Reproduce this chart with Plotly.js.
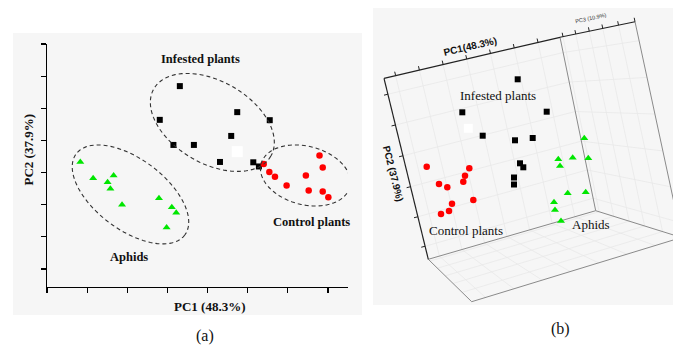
<!DOCTYPE html>
<html><head><meta charset="utf-8">
<script src="https://cdn.plot.ly/plotly-3.0.1.min.js"></script>
<style>html,body{margin:0;padding:0;background:#fff}#chart{width:673px;height:345px}</style>
</head><body><div id="chart"></div>
<script>
// ---------- Panel (a): 2D PCA scores ----------
const infestedA_x = [0.31,-0.19,1.74,2.55,1.59,0.15,0.66,1.31,2.14,2.28];
const infestedA_y = [2.69,1.64,1.88,1.63,1.14,0.86,0.86,0.33,0.32,0.19];
const controlA_x  = [2.40,2.54,2.68,2.97,3.45,3.52,3.79,3.87,3.87,4.01];
const controlA_y  = [0.27,0.02,-0.13,-0.40,-0.09,-0.56,0.53,0.16,-0.59,-0.77];
const aphidsA_x   = [-2.17,-1.85,-1.34,-1.49,-1.42,-1.13,-0.21,0.11,0.22,-0.02];
const aphidsA_y   = [0.33,-0.18,-0.09,-0.30,-0.50,-1.00,-0.80,-1.08,-1.25,-1.71];
const blankA_x = [1.74];
const blankA_y = [0.65];
const xTicksA = [-3,-2,-1,0,1,2,3,4];
const yTicksA = [-3,-2,-1,0,1,2,3,4];
const groupLabels = ["Infested plants","Control plants","Aphids"];
const axisLabelsA = ["PC1 (48.3%)","PC2 (37.9%)"];
const axisLabelsB = ["PC1(48.3%)","PC2 (37.9%)","PC3 (10.9%)"];
const panelLabels = ["(a)","(b)"];

// ---------- Panel (b): projected 3D PCA scores ----------
const infestedB_x = [144.7,89.3,173.7,109.7,142,159.7,147,150.3,141,141];
const infestedB_y = [225.7,192.7,193.3,169.3,164.7,167,141.7,137.7,127.5,120.5];
const controlB_x  = [53.7,96.3,92,90.3,66,74.3,100.3,79,76,68];
const controlB_y  = [138.3,136.7,129.3,123.3,121,117.7,105,101.3,94,91];
const aphidsB_x   = [211.3,185.3,199.7,215.3,187,194.7,212.7,181,182,188];
const aphidsB_y   = [166.7,145.7,147.3,146.7,139,111.7,112.7,102.7,95,84];
const blankB_x = [95.3];
const blankB_y = [176.7];

// ---------- layout geometry ----------
const W = 673, H = 345;
const xRangeA = [-3, 4.5], yRangeA = [-3.56, 4.0];
const domA = {x0:47, x1:348, y0:44, y1:287};
const domB = {x0:373, x1:673, y0:8, y1:305};
const pxX = (domA.x1-domA.x0)/(xRangeA[1]-xRangeA[0]);
const pxY = (domA.y1-domA.y0)/(yRangeA[1]-yRangeA[0]);
const fx = p => p/W, fy = p => 1 - p/H;

const serif = "Liberation Serif, Times New Roman, serif";
const sans = "Liberation Sans, Arial, sans-serif";
const GREEN = "#00e600", RED = "#ff0000";

const shapes = [];
shapes.push({type:'rect', xref:'paper', yref:'paper', layer:'below', x0:fx(13), x1:fx(362), y0:fy(315), y1:fy(33), fillcolor:'#f6f6f6', line:{width:0}});
shapes.push({type:'rect', xref:'paper', yref:'paper', layer:'below', x0:fx(373), x1:1, y0:fy(305), y1:fy(8), fillcolor:'#f6f6f6', line:{width:0}});

const ellipses = [
  {cx:1.12, cy:1.56, a:67.5, b:41.1, t:29.9},
  {cx:-0.92, cy:-0.68, a:67.8, b:35.3, t:36.8},
  {cx:3.44, cy:-0.09, a:45.9, b:29.2, t:14.6}
];
ellipses.forEach(e => {
  const th = e.t*Math.PI/180; let d = '';
  for (let i=0;i<=96;i++){
    const s = 2*Math.PI*i/96;
    const dx = e.a*Math.cos(s)*Math.cos(th) - e.b*Math.sin(s)*Math.sin(th);
    const dy = e.a*Math.cos(s)*Math.sin(th) + e.b*Math.sin(s)*Math.cos(th);
    const X = e.cx + dx/pxX, Y = e.cy - dy/pxY;
    d += (i===0?'M':'L') + X.toFixed(4) + ',' + Y.toFixed(4);
  }
  shapes.push({type:'path', xref:'x', yref:'y', path:d+'Z', line:{color:'#333', width:1.1, dash:'4px,3px'}});
});

const TL=[11,226.7], TR=[187,267.7], BR=[222.7,94.3], BL=[55.3,45.7];
const TF=[262,283.3], BF=[308.5,67.5], FL=[98.7,3.3];
const front=[TL,TR,BR,BL], right=[TR,TF,BF,BR], floor=[BL,BR,BF,FL];
function P(f,u,v){
  const [a,b,c,d]=f;
  return [(1-u)*(1-v)*a[0]+u*(1-v)*b[0]+u*v*c[0]+(1-u)*v*d[0],
          (1-u)*(1-v)*a[1]+u*(1-v)*b[1]+u*v*c[1]+(1-u)*v*d[1]];
}
const uT=[0.066,0.201,0.336,0.470,0.605,0.740,0.875];
const vT=[0.088,0.258,0.428,0.599,0.765,0.928];
const wT=[0.04,0.21,0.39,0.57,0.78];
function seg(p,q,color,width){
  shapes.push({type:'line', xref:'x2', yref:'y2', layer:'below', x0:p[0], y0:p[1], x1:q[0], y1:q[1], line:{color:color, width:width}});
}
const gc='#e9e9e9';
uT.forEach(u=>{seg(P(front,u,0),P(front,u,1),gc,0.8); seg(P(floor,u,0),P(floor,u,1),gc,0.8);});
vT.forEach(v=>{seg(P(front,0,v),P(front,1,v),gc,0.8); seg(P(right,0,v),P(right,1,v),gc,0.8);});
wT.forEach(w=>{seg(P(right,w,0),P(right,w,1),gc,0.8); seg(P(floor,0,w),P(floor,1,w),gc,0.8);});
const ec='#8a8a8a', dk='#222';
seg(TR,BR,ec,1); seg(BL,BR,ec,1); seg(TF,BF,ec,1); seg(BR,BF,ec,1); seg(BL,FL,ec,1); seg(FL,BF,ec,1);
seg(TL,TR,dk,1.2); seg(TL,BL,dk,1.2); seg(TR,TF,dk,1.1);
function nrm(p,q,sgn){const dx=q[0]-p[0],dy=q[1]-p[1],L=Math.hypot(dx,dy);return [sgn*-dy/L, sgn*dx/L];}
const nTop=nrm(TL,TR,1), nLeft=nrm(TL,BL,-1), nR=nrm(TR,TF,1);
uT.forEach(u=>{const p=P(front,u,0); seg(p,[p[0]+4*nTop[0],p[1]+4*nTop[1]],dk,1);});
vT.forEach(v=>{const p=P(front,0,v); seg(p,[p[0]+4*nLeft[0],p[1]+4*nLeft[1]],dk,1);});
wT.concat([1]).forEach(w=>{const p=P(right,w,0); seg(p,[p[0]+4*nR[0],p[1]+4*nR[1]],dk,1);});

const traces = [
  {x:infestedA_x, y:infestedA_y, xaxis:'x', yaxis:'y', mode:'markers', marker:{symbol:'square', size:6, color:'#000'}},
  {x:blankA_x, y:blankA_y, xaxis:'x', yaxis:'y', mode:'markers', marker:{symbol:'square', size:11, color:'#fff'}},
  {x:controlA_x, y:controlA_y, xaxis:'x', yaxis:'y', mode:'markers', marker:{symbol:'circle', size:6.5, color:RED}},
  {x:aphidsA_x, y:aphidsA_y, xaxis:'x', yaxis:'y', mode:'markers', marker:{symbol:'triangle-up', size:7, color:GREEN}},
  {x:infestedB_x, y:infestedB_y, xaxis:'x2', yaxis:'y2', mode:'markers', marker:{symbol:'square', size:6, color:'#000'}},
  {x:blankB_x, y:blankB_y, xaxis:'x2', yaxis:'y2', mode:'markers', marker:{symbol:'square', size:9, color:'#fff'}},
  {x:controlB_x, y:controlB_y, xaxis:'x2', yaxis:'y2', mode:'markers', marker:{symbol:'circle', size:6.5, color:RED}},
  {x:aphidsB_x, y:aphidsB_y, xaxis:'x2', yaxis:'y2', mode:'markers', marker:{symbol:'triangle-up', size:7, color:GREEN}}
];

const ann = (text,x,y,font,extra) => Object.assign({text:text, x:x, y:y, showarrow:false, font:font, xanchor:'center', yanchor:'middle'}, extra||{});
const annotations = [
  ann(groupLabels[0], 0.82, 3.52, {family:serif, size:12.5, color:'#111', weight:'bold'}, {xref:'x', yref:'y'}),
  ann(groupLabels[1], 3.58, -1.55, {family:serif, size:12.5, color:'#111', weight:'bold'}, {xref:'x', yref:'y'}),
  ann(groupLabels[2], -0.95, -2.64, {family:serif, size:12.5, color:'#111', weight:'bold'}, {xref:'x', yref:'y'}),
  ann(axisLabelsA[0], fx(210), fy(306), {family:serif, size:13, color:'#111', weight:'bold'}, {xref:'paper', yref:'paper'}),
  ann(axisLabelsA[1], fx(28.5), fy(150), {family:serif, size:13, color:'#111', weight:'bold'}, {xref:'paper', yref:'paper', textangle:-90}),
  ann(groupLabels[0], 124.7, 210, {family:serif, size:13, color:'#111'}, {xref:'x2', yref:'y2'}),
  ann(groupLabels[1], 92.7, 74.3, {family:serif, size:13, color:'#111'}, {xref:'x2', yref:'y2'}),
  ann(groupLabels[2], 218, 80.7, {family:serif, size:13, color:'#111'}, {xref:'x2', yref:'y2'}),
  ann(axisLabelsB[0], 97, 258.3, {family:sans, size:10, color:'#111', weight:'bold'}, {xref:'x2', yref:'y2', textangle:-13}),
  ann(axisLabelsB[1], 20.3, 131.7, {family:sans, size:10, color:'#111', weight:'bold'}, {xref:'x2', yref:'y2', textangle:76}),
  ann(axisLabelsB[2], 217.7, 286.7, {family:sans, size:5.5, color:'#333'}, {xref:'x2', yref:'y2', textangle:-12}),
  ann(panelLabels[0], fx(205), fy(336), {family:serif, size:16, color:'#111'}, {xref:'paper', yref:'paper'}),
  ann(panelLabels[1], fx(560), fy(329), {family:serif, size:16, color:'#111'}, {xref:'paper', yref:'paper'})
];

const layout = {
  width:W, height:H, margin:{l:0,r:0,t:0,b:0},
  paper_bgcolor:'#fff', plot_bgcolor:'rgba(0,0,0,0)',
  showlegend:false, hovermode:false,
  xaxis:{domain:[fx(domA.x0), fx(domA.x1)], range:xRangeA, showline:true, linecolor:'#000', linewidth:1.3,
         ticks:'outside', ticklen:5, tickwidth:1.2, tickcolor:'#000', tickmode:'array', tickvals:xTicksA,
         showticklabels:false, showgrid:false, zeroline:false, fixedrange:true},
  yaxis:{domain:[fy(domA.y1), fy(domA.y0)], range:yRangeA, showline:true, linecolor:'#000', linewidth:1.3,
         ticks:'outside', ticklen:5, tickwidth:1.2, tickcolor:'#000', tickmode:'array', tickvals:yTicksA,
         showticklabels:false, showgrid:false, zeroline:false, fixedrange:true},
  xaxis2:{domain:[fx(domB.x0), 1], range:[0,300], showline:false, showgrid:false, zeroline:false, showticklabels:false, ticks:'', fixedrange:true, anchor:'y2'},
  yaxis2:{domain:[fy(domB.y1), fy(domB.y0)], range:[0,297], showline:false, showgrid:false, zeroline:false, showticklabels:false, ticks:'', fixedrange:true, anchor:'x2'},
  shapes:shapes, annotations:annotations
};
Plotly.newPlot('chart', traces, layout, {staticPlot:true, displayModeBar:false});
</script></body></html>
